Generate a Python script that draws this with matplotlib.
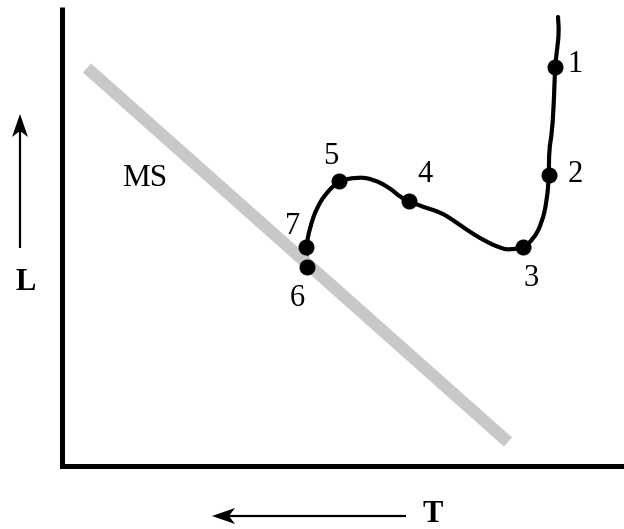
import numpy as np
import matplotlib.pyplot as plt
from matplotlib.path import Path
from matplotlib.patches import PathPatch

# evolution track drawn in the (T, L) sketch plane, T grows to the left in the picture
track_x = [558, 559, 557, 555, 554, 552, 549, 549, 547, 542, 533, 523,
           510, 500, 483, 467, 453, 440, 423, 409, 400, 390, 373, 357,
           339, 327, 317, 310, 306, 307]
track_y = [17, 33, 50, 67, 100, 133, 150, 175, 200, 223, 240, 247,
           250, 248, 240, 230, 220, 212, 207, 201, 197, 188, 179, 177,
           181, 192, 207, 227, 247, 267]

# marked stages along the track
stage_names = ['1', '2', '3', '4', '5', '6', '7']
stage_x = [555, 549, 523, 409, 339, 307, 306]
stage_y = [67, 175, 247, 201, 181, 267, 247]
label_x = [575, 575, 531, 425, 331, 297, 293]
label_y = [65, 175, 278, 175, 156, 298, 226]

# main sequence band
ms_x = [87, 508]
ms_y = [68, 442]

fnt = ['Liberation Serif', 'DejaVu Serif']


def arrow(ax, x0, y0, x1, y1, hl=23, hw=8, notch=6):
    # shaft plus a notched head pointing at (x1, y1)
    d = np.array([x1 - x0, y1 - y0], dtype=float)
    d /= np.hypot(*d)
    n = np.array([-d[1], d[0]])
    tip = np.array([x1, y1], dtype=float)
    back = tip - d * hl
    ax.plot([x0, back[0] + d[0] * notch], [y0, back[1] + d[1] * notch],
            color='black', lw=1.6, solid_capstyle='butt')
    head = np.array([tip, back + n * hw, back + d * notch, back - n * hw])
    ax.fill(head[:, 0], head[:, 1], color='black', lw=0)


def smooth_path(xs, ys):
    # quadratic bezier through the midpoints, using the points as controls
    pts = np.column_stack([xs, ys]).astype(float)
    mids = (pts[:-1] + pts[1:]) / 2
    verts = [pts[0], mids[0]]
    codes = [Path.MOVETO, Path.LINETO]
    for i in range(1, len(pts) - 1):
        verts += [pts[i], mids[i]]
        codes += [Path.CURVE3, Path.CURVE3]
    verts.append(pts[-1])
    codes.append(Path.LINETO)
    return Path(verts, codes)


fig = plt.figure(figsize=(6.24, 5.29), dpi=100, facecolor='white')
ax = fig.add_axes([0, 0, 1, 1])
ax.set_xlim(0, 624)
ax.set_ylim(529, 0)
ax.axis('off')

# axes of the diagram
ax.plot([61.5, 61.5, 624], [7, 465.5, 465.5], color='black', lw=3.6,
        solid_joinstyle='miter', solid_capstyle='butt')

ax.plot(ms_x, ms_y, color='#c8c8c8', lw=8.8, solid_capstyle='butt')
ax.text(145, 178, 'MS', fontsize=22.5, family=fnt, ha='center', va='center')

ax.add_patch(PathPatch(smooth_path(track_x, track_y), fill=False,
                       edgecolor='black', lw=3.0, capstyle='round',
                       joinstyle='round'))
ax.plot(stage_x, stage_y, 'o', color='black', ms=10.5)
for s, lx, ly in zip(stage_names, label_x, label_y):
    ax.text(lx, ly, s, fontsize=22, family=fnt, ha='center', va='center')

arrow(ax, 20, 248, 20, 114)
ax.text(26, 283, 'L', fontsize=22, family=fnt, weight='bold',
        ha='center', va='center')
arrow(ax, 406, 516, 212, 516)
ax.text(433, 514, 'T', fontsize=22, family=fnt, weight='bold',
        ha='center', va='center')

fig.savefig('out.png', dpi=100, facecolor='white')
